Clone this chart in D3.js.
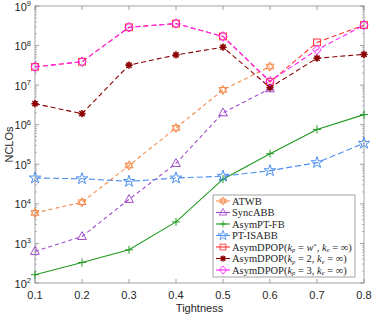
<!DOCTYPE html>
<html><head><meta charset="utf-8">
<script src="https://cdn.jsdelivr.net/npm/d3@7"></script>
<style>body{margin:0;background:#fff}svg{display:block}</style>
</head><body>
<script>
const xValues = [0.1,0.2,0.3,0.4,0.5,0.6,0.7,0.8];
const atwb    = [5.9e3,1.1e4,9.3e4,8.3e5,7.6e6,2.95e7];
const syncabb = [630,1.5e3,1.3e4,1.05e5,2.0e6,8.1e6];
const asymptfb= [162,330,690,3.5e3,4.2e4,1.85e5,7.6e5,1.8e6];
const ptisabb = [4.5e4,4.3e4,3.7e4,4.5e4,5.0e4,6.9e4,1.1e5,3.4e5];
const dpopW   = [2.9e7,3.9e7,2.9e8,3.6e8,1.7e8,1.2e7,1.2e8,3.3e8];
const dpop2   = [3.4e6,1.9e6,3.2e7,5.8e7,9.1e7,8.7e6,4.8e7,6.0e7];
const dpop3   = [2.9e7,3.9e7,2.9e8,3.6e8,1.7e8,1.26e7,7.8e7,3.3e8];
const xTicks = [0.1,0.2,0.3,0.4,0.5,0.6,0.7,0.8];
const yTickExps = [2,3,4,5,6,7,8,9];

const series = [
  {name:"ATWB", vals:atwb, color:"#f58a4b", dash:"4,3", marker:"hex"},
  {name:"SyncABB", vals:syncabb, color:"#a24bcf", dash:"4,3", marker:"tri"},
  {name:"AsymPT-FB", vals:asymptfb, color:"#1f9a1f", dash:null, marker:"plus"},
  {name:"PT-ISABB", vals:ptisabb, color:"#4d8ef0", dash:"6,3", marker:"star"},
  {name:"dpopW", kp:"w*", vals:dpopW, color:"#ff3030", dash:"5,3", marker:"square"},
  {name:"dpop2", kp:"2", vals:dpop2, color:"#8b0000", dash:"5,3", marker:"ast"},
  {name:"dpop3", kp:"3", vals:dpop3, color:"#ff20ff", dash:"5,3", marker:"diamond"}
];

const W=374,H=316, L=35,R=364,T=6,B=283;
const svg=d3.select("body").append("svg").attr("width",W).attr("height",H);
const x=d3.scaleLinear().domain([0.1,0.8]).range([L,R]);
const y=d3.scaleLog().domain([1e2,1e9]).range([B,T]);

const axisColor="#8c8c8c", textColor="#262626";
const g=svg.append("g");
g.append("rect").attr("x",L).attr("y",T).attr("width",R-L).attr("height",B-T)
 .attr("fill","none").attr("stroke",axisColor).attr("stroke-width",0.8);

const tl=4, tm=2;
xTicks.forEach(v=>{
  const px=x(v);
  g.append("line").attr("x1",px).attr("x2",px).attr("y1",B).attr("y2",B-tl).attr("stroke",axisColor).attr("stroke-width",0.8);
  g.append("line").attr("x1",px).attr("x2",px).attr("y1",T).attr("y2",T+tl).attr("stroke",axisColor).attr("stroke-width",0.8);
  g.append("text").attr("x",px).attr("y",299).attr("text-anchor","middle")
   .attr("font-family","Liberation Sans, Arial, sans-serif").attr("font-size",11).attr("fill",textColor).text(v.toFixed(1));
});
yTickExps.forEach(e=>{
  const py=y(Math.pow(10,e));
  [[L,L+tl],[R,R-tl]].forEach(([a,b])=>g.append("line").attr("x1",a).attr("x2",b).attr("y1",py).attr("y2",py).attr("stroke",axisColor).attr("stroke-width",0.8));
  const t=g.append("text").attr("x",31).attr("y",py+4.5).attr("text-anchor","end")
   .attr("font-family","Liberation Sans, Arial, sans-serif").attr("font-size",11).attr("fill",textColor);
  t.append("tspan").text("10");
  t.append("tspan").attr("font-size",7.5).attr("dy",-4.5).text(e);
  if(e<9){
    for(let k=2;k<10;k++){
      const pm=y(k*Math.pow(10,e));
      [[L,L+tm],[R,R-tm]].forEach(([a,b])=>g.append("line").attr("x1",a).attr("x2",b).attr("y1",pm).attr("y2",pm).attr("stroke",axisColor).attr("stroke-width",0.6));
    }
  }
});
g.append("text").attr("x",(L+R)/2).attr("y",312).attr("text-anchor","middle")
 .attr("font-family","Liberation Sans, Arial, sans-serif").attr("font-size",11).attr("fill",textColor).text("Tightness");
g.append("text").attr("transform",`translate(13,${(T+B)/2}) rotate(-90)`).attr("text-anchor","middle")
 .attr("font-family","Liberation Sans, Arial, sans-serif").attr("font-size",11).attr("fill",textColor).text("NCLOs");

function drawMarker(sel,type,cx,cy,color,s){
  s=s||1;
  const m=sel.append("g").attr("transform",`translate(${cx},${cy}) scale(${s})`);
  const st={fill:"none",stroke:color,"stroke-width":1};
  const apply=(el)=>{Object.entries(st).forEach(([k,v])=>el.attr(k,v));return el;};
  if(type==="tri") apply(m.append("path").attr("d","M0,-4.8L4.4,3L-4.4,3Z"));
  else if(type==="square") apply(m.append("rect").attr("x",-3.4).attr("y",-3.4).attr("width",6.8).attr("height",6.8));
  else if(type==="diamond") apply(m.append("path").attr("d","M0,-4.8L4.2,0L0,4.8L-4.2,0Z"));
  else if(type==="plus") apply(m.append("path").attr("d","M-4,0H4M0,-4V4"));
  else if(type==="star") apply(m.append("path").attr("d",d3.symbol(d3.symbolStar,42)()));
  else if(type==="hex"){
    apply(m.append("path").attr("d","M0,-4.6L4,2.3L-4,2.3ZM0,4.6L4,-2.3L-4,-2.3Z"));
  }
  else if(type==="ast"){
    apply(m.append("path").attr("d","M-3.6,0H3.6M0,-3.6V3.6M-2.6,-2.6L2.6,2.6M-2.6,2.6L2.6,-2.6")).attr("stroke-width",1.6);
  }
}

const line=d3.line().x((d,i)=>x(xValues[i])).y(d=>y(d));
series.forEach(s=>{
  const p=g.append("path").attr("d",line(s.vals)).attr("fill","none").attr("stroke",s.color).attr("stroke-width",1.1);
  if(s.dash) p.attr("stroke-dasharray",s.dash);
});
series.forEach(s=>{
  s.vals.forEach((v,i)=>drawMarker(g,s.marker,x(xValues[i]),y(v),s.color));
});

// legend
const lx=213, ly=195, lw=142, lh=82;
const lg=svg.append("g");
lg.append("rect").attr("x",lx).attr("y",ly).attr("width",lw).attr("height",lh).attr("fill","#fff").attr("stroke",axisColor).attr("stroke-width",0.8);
series.forEach((s,i)=>{
  const yy=201+i*11.5;
  lg.append("line").attr("x1",lx+3).attr("x2",lx+17).attr("y1",yy).attr("y2",yy).attr("stroke",s.color).attr("stroke-width",1.1);
  drawMarker(lg,s.marker,lx+10,yy,s.color,0.85);
  const t=lg.append("text").attr("x",lx+19).attr("y",yy+3.6)
    .attr("font-family","Liberation Serif, Times New Roman, serif").attr("font-size",10.5).attr("fill",textColor);
  if(!s.kp){ t.text(s.name); }
  else {
    t.append("tspan").text("AsymDPOP(");
    t.append("tspan").attr("font-style","italic").text("k");
    t.append("tspan").attr("font-style","italic").attr("font-size",6.5).attr("dy",1.5).text("p");
    if(s.kp==="w*"){
      t.append("tspan").attr("dy",-1.5).text(" = ");
      t.append("tspan").attr("font-style","italic").text("w");
      t.append("tspan").attr("font-size",6.5).attr("dy",-3).text("*");
      t.append("tspan").attr("dy",3).text(", ");
    } else {
      t.append("tspan").attr("dy",-1.5).text(" = "+s.kp+", ");
    }
    t.append("tspan").attr("font-style","italic").text("k");
    t.append("tspan").attr("font-style","italic").attr("font-size",6.5).attr("dy",1.5).text("e");
    t.append("tspan").attr("dy",-1.5).text(" = ∞)");
  }
});
</script>
</body></html>
